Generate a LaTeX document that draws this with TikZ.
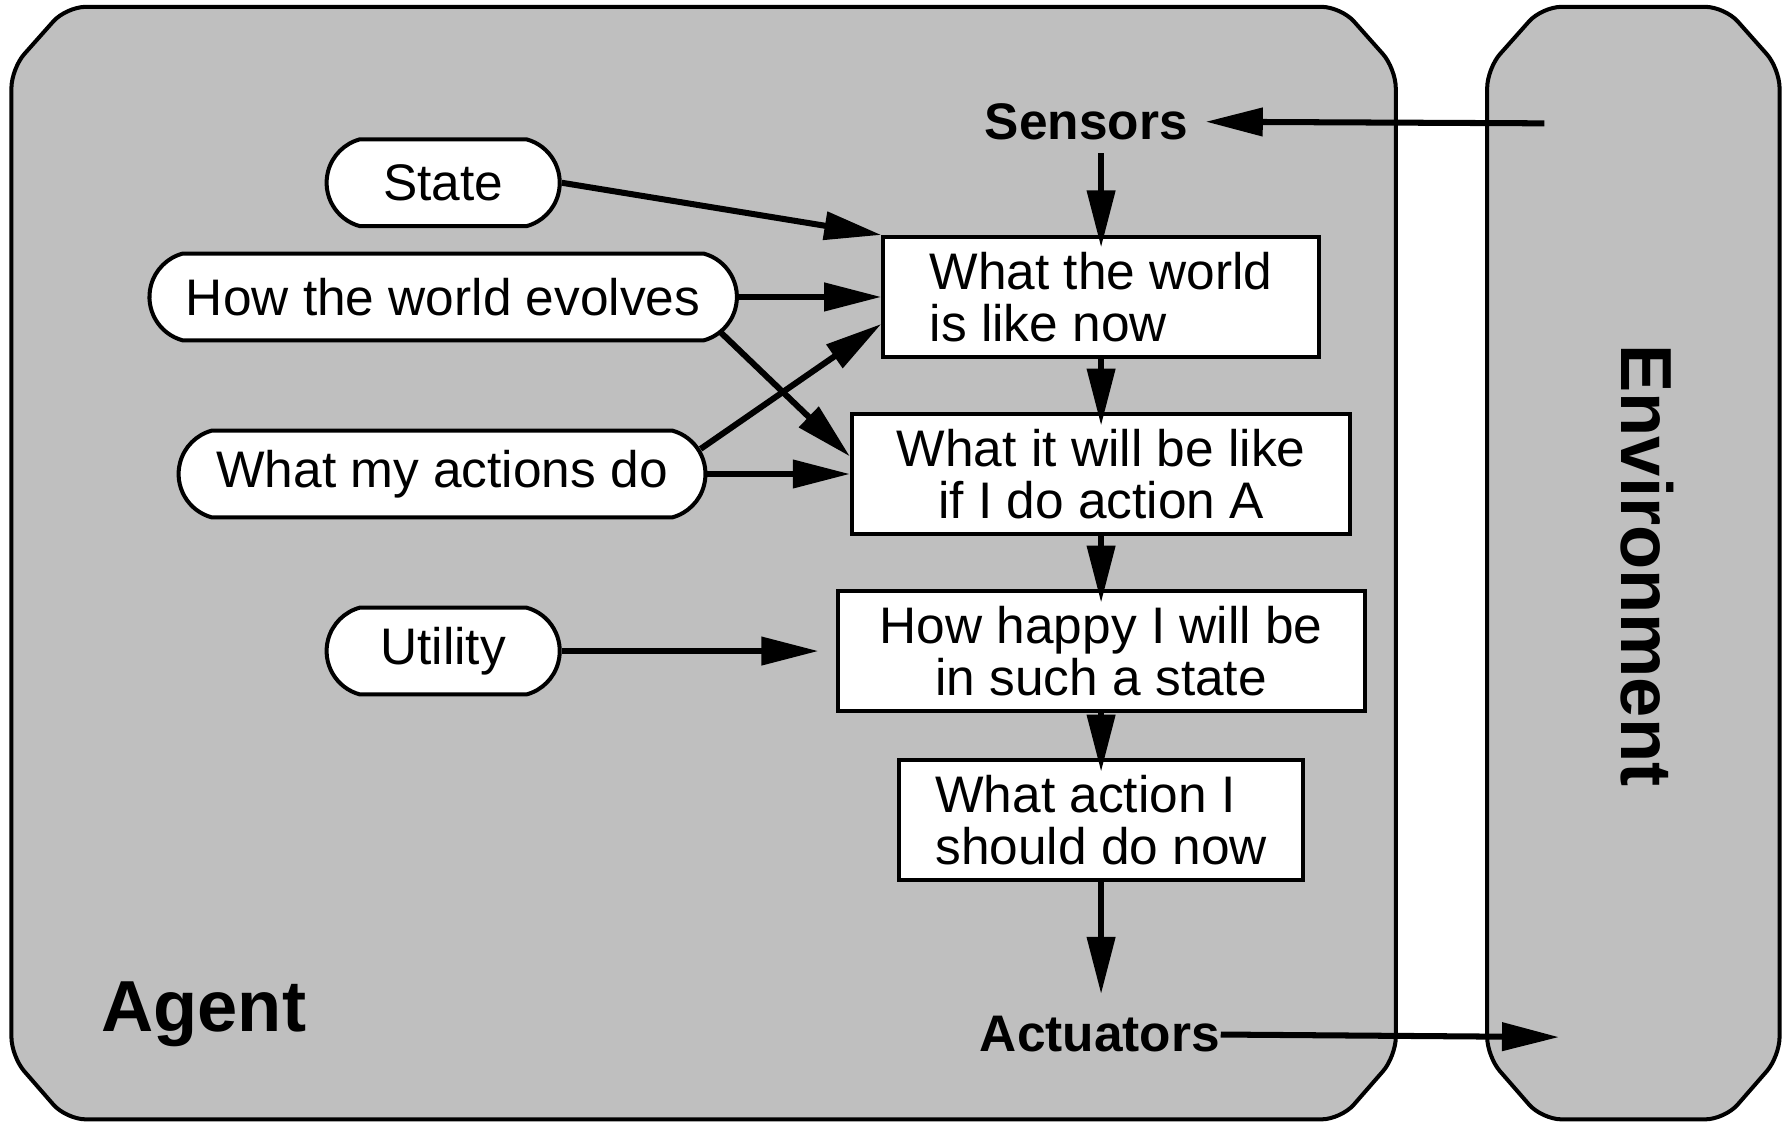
\documentclass[tikz,border=0pt]{standalone}
\usepackage{fontspec}
\setmainfont{Liberation Sans}
\usetikzlibrary{shapes.misc,arrows.meta}

\begin{document}
\begin{tikzpicture}[x=0.01cm, y=-0.01cm, font=\fontsize{12.8}{13}\selectfont,
                    panel/.style={draw, line width=1pt, fill=black!25, rounded corners=0.17cm},
                    model node/.style={rounded rectangle, rounded rectangle arc length=150, draw, fill=white,
                                       line width=1pt, minimum height=0.76cm, inner sep=0pt},
                    box node/.style={rectangle, draw, fill=white, line width=1pt, minimum height=1.05cm, inner sep=0pt},
                    label node/.style={font=\fontsize{12.8}{13}\selectfont\bfseries, inner sep=0pt},
                    big label/.style={font=\fontsize{18}{20}\selectfont\bfseries, inner sep=0pt},
                    flow/.style={-{Triangle[length=0.5cm, width=0.24cm]}, line width=1.5pt}]

  \useasboundingbox (0,0) rectangle (1568,983);

  % agent and environment
  \draw[panel] (10,60) -- (10,925) -- (58,980) -- (1174,980) -- (1222,925) -- (1222,60) -- (1174,6) -- (58,6) -- cycle;
  \draw[panel] (1302,60) -- (1302,925) -- (1350,980) -- (1510,980) -- (1558,925) -- (1558,60) -- (1510,6) -- (1350,6) -- cycle;

  \node[big label, anchor=base west] (agent) at (88,903) {Agent};
  \node[big label, rotate=-90] (env) at (1442,495) {Environment};

  \node[label node, anchor=base] (sensors) at (951,122) {Sensors};
  \node[label node, anchor=base] (actuators) at (963,921) {Actuators};

  \node[box node, minimum width=3.81cm, align=left] (now) at (964,260) {What the world\\is like now};
  \node[box node, minimum width=4.36cm, align=center] (future) at (964,415) {What it will be like\\if I do action A};
  \node[box node, minimum width=4.61cm, align=center] (happy) at (964,570) {How happy I will be\\in such a state};
  \node[box node, minimum width=3.54cm, align=left] (action) at (964,718) {What action I\\should do now};

  \node[model node, minimum width=2.04cm] (state) at (388,160) {State};
  \node[model node, minimum width=5.14cm] (evolves) at (388,260) {How the world evolves};
  \node[model node, minimum width=4.61cm] (effects) at (387,415) {What my actions do};
  \node[model node, minimum width=2.04cm] (utility) at (388,570) {Utility};

  \coordinate (percept) at (1352,108);
  \coordinate (outlet) at (1365,908);

  \path[flow]
    (percept) edge[shorten >=0.15cm] (sensors.east)
    (sensors.south -| now.north) edge[shorten <=0.11cm, shorten >=-0.11cm] (now.north)

    (state.east) edge (now.north west)
    (evolves.east) edge (now.west)
    ([shift={(-17,30)}]evolves.east) edge (future.176)
    ([shift={(-6,-22)}]effects.east) edge (now.187)
    (effects.east) edge (future.west)

    (now.south) edge[shorten >=-0.12cm] (future.north)
    (future.south) edge[shorten >=-0.12cm] (happy.north)
    (utility.east) edge[shorten >=0.15cm] (happy.west)
    (happy.south) edge[shorten >=-0.12cm] (action.north)
    (action.south) edge[shorten >=0.19cm] (actuators.north -| action.south)
    (actuators.east) edge (outlet);

\end{tikzpicture}
\end{document}
